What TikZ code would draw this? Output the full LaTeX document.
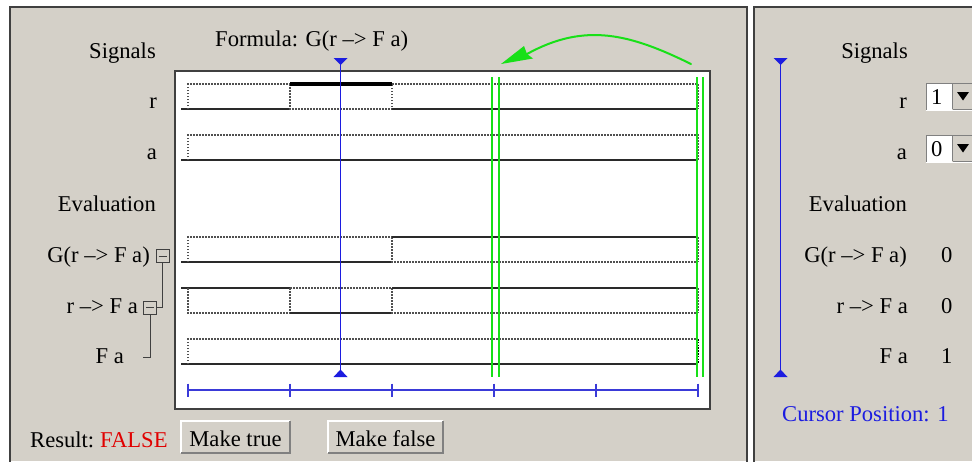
\documentclass[tikz,border=0pt]{standalone}
\usepackage{fontspec}
\setmainfont{Liberation Serif}
\usetikzlibrary{arrows.meta}
\definecolor{panel}{HTML}{D4D0C8}
\definecolor{edge}{HTML}{404040}
\definecolor{cur}{HTML}{1C1CE0}
\definecolor{axisc}{HTML}{3A3AD8}
\definecolor{grn}{HTML}{18E018}
\definecolor{dotc}{HTML}{505050}
\definecolor{sigc}{HTML}{2A2A2A}
\definecolor{redt}{HTML}{E00000}
\begin{document}
\begin{tikzpicture}[x=1pt,y=-1pt,
  txt/.style={inner sep=0pt, font=\fontsize{22.6}{25}\selectfont},
  lbl/.style={txt, anchor=base east},
  lft/.style={txt, anchor=base west},
  sig/.style={draw=sigc, line width=1.4pt},
  dotl/.style={draw=dotc, line width=1.5pt, dash pattern=on 1.5pt off 1.5pt},
  grnl/.style={draw=grn, line width=1.3pt},
  curl/.style={draw=cur, line width=1.2pt},
  icon/.style={draw=edge, line width=1pt},
]
\useasboundingbox (0,0) rectangle (972,461);
\fill[white] (0,0) rectangle (972,461);
% panels
\fill[panel] (10,7) rectangle (747,461);
\draw[edge, line width=1.6pt] (10,470) -- (10,7) -- (747,7) -- (747,470);
\fill[panel] (754,7) rectangle (980,461);
\draw[edge, line width=1.6pt] (754,470) -- (754,7) -- (980,7);
% plot area
\draw[fill=white, draw=edge, line width=1.4pt] (175,71) rectangle (710,409);

% signal r
\draw[sig] (181,109) -- (290,109);
\draw[dotl] (188,109) -- (188,84) -- (290,84);
\draw[dotl] (290,84) -- (290,109) -- (392,109) -- (392,84);
\draw[draw=black, line width=3.2pt] (290,84) -- (392,84);
\draw[sig] (392,109) -- (698,109);
\draw[dotl] (392,84) -- (698,84) -- (698,109);
% signal a
\draw[sig] (181,160) -- (698,160);
\draw[dotl] (188,160) -- (188,135) -- (698,135) -- (698,160);
% G(r -> F a)
\draw[sig] (181,262) -- (392,262);
\draw[dotl] (188,262) -- (188,237) -- (392,237);
\draw[dotl] (392,237) -- (392,262) -- (698,262);
\draw[sig] (392,237) -- (698,237);
\draw[dotl] (698,237) -- (698,262);
% r -> F a
\draw[sig] (181,288) -- (290,288);
\draw[dotl] (188,288) -- (188,313) -- (290,313);
\draw[dotl] (290,288) -- (290,313);
\draw[sig] (290,313) -- (392,313);
\draw[dotl] (290,288) -- (392,288) -- (392,313) -- (698,313);
\draw[sig] (392,288) -- (698,288);
\draw[dotl] (698,288) -- (698,313);
% F a
\draw[sig] (181,364) -- (698,364);
\draw[dotl] (188,364) -- (188,339) -- (698,339);
\draw[draw=black, line width=1.5pt, dash pattern=on 1.6pt off 1.2pt] (698,339) -- (698,364);

% green markers
\draw[grnl] (492,77) -- (492,377);
\draw[grnl] (499,77) -- (499,377);
\draw[grnl] (697,77) -- (697,377);
\draw[grnl] (703,77) -- (703,377);
\coordinate (gs) at (691,64);
\coordinate (gn) at (527,54);
\coordinate (ge) at (501,64);
\draw[draw=grn, line width=2pt, line cap=round]
  (gs) .. controls (630,34) and (585,22) .. (gn);
\fill[grn] (ge) -- (524,46) -- (gn) -- (533,58.5) -- cycle;

% cursor
\coordinate (ct) at (340.5,62);
\coordinate (cb) at (340.5,372);
\draw[curl] (ct) -- (cb);
\fill[cur] (333.5,58) -- (347.5,58) -- (340.5,65) -- cycle;
\fill[cur] (333.5,377) -- (347.5,377) -- (340.5,369.5) -- cycle;

% time axis
\draw[draw=axisc, line width=1.4pt] (188,390) -- (698,390);
\foreach \t in {188,290,392,494,596,698}
  \draw[draw=axisc, line width=1.3pt] (\t,383.5) -- (\t,396.5);

% left labels
\node[lft] (formula) at (215,46) {Formula: G(r –> F a)};
\node[lbl] (lsig) at (156,58) {Signals};
\node[lbl] (lr) at (157,108) {r};
\node[lbl] (la) at (157,159) {a};
\node[lbl] (leval) at (156,211) {Evaluation};
\node[lbl] (lg) at (150,262) {G(r –> F a)};
\node[lbl] (lrf) at (138,313) {r –> F a};
\node[lbl] (lf) at (124,363) {F a};

% tree icons
\draw[icon] (156,249.5) rectangle (169,262.5);
\draw[icon] (158.5,256) -- (166.5,256);
\draw[icon] (143.5,301) rectangle (156.5,314);
\draw[icon] (146,307.5) -- (154,307.5);
\coordinate (gi) at (162.5,262.5);
\coordinate (gj) at (162.5,307.5);
\coordinate (ri) at (150,314);
\coordinate (rj) at (150,357);
\draw[icon] (gi) -- (gj) -- (156.5,307.5);
\draw[icon] (ri) -- (rj) -- (143,357);

% result and buttons
\node[lft] (res) at (30,447) {Result:};
\node[lft, text=redt] (false) at (100,447) {FALSE};
\fill[panel] (181,421) rectangle (290,453);
\draw[white, line width=1.2pt] (181,453) -- (181,421) -- (290,421);
\draw[draw=gray, line width=1.2pt] (181,453) -- (290,453) -- (290,421);
\node[txt, anchor=base] (mtrue) at (235.5,446) {Make true};
\fill[panel] (328,421) rectangle (443,453);
\draw[white, line width=1.2pt] (328,453) -- (328,421) -- (443,421);
\draw[draw=gray, line width=1.2pt] (328,453) -- (443,453) -- (443,421);
\node[txt, anchor=base] (mfalse) at (385.5,446) {Make false};

% right panel
\coordinate (rt) at (780.5,62);
\coordinate (rb) at (780.5,372);
\draw[curl] (rt) -- (rb);
\fill[cur] (773.5,58) -- (787.5,58) -- (780.5,65) -- cycle;
\fill[cur] (773.5,377) -- (787.5,377) -- (780.5,369.5) -- cycle;

\node[lbl] (rsig) at (908,58) {Signals};
\node[lbl] (rr) at (907,108) {r};
\node[lbl] (ra) at (907,159) {a};
\node[lbl] (reval) at (907,211) {Evaluation};
\node[lbl] (rg) at (907,262) {G(r –> F a)};
\node[lbl] (rrf) at (908,313) {r –> F a};
\node[lbl] (rf) at (908,363) {F a};
\node[lft] (vg) at (941,262) {0};
\node[lft] (vrf) at (941,313) {0};
\node[lft] (vf) at (941,363) {1};
\node[lft, text=cur] (cpos) at (782,421) {Cursor Position: 1};

% dropdowns
\foreach \yy/\v/\nm in {83/1/ddr,135/0/dda}{
  \fill[white] (926,\yy) rectangle (952,\yy+27);
  \draw[draw=gray, line width=1pt] (926,\yy+27) -- (926,\yy) -- (980,\yy);
  \draw[draw=white, line width=1pt] (926,\yy+27) -- (980,\yy+27);
  \fill[panel] (953,\yy+1.5) rectangle (980,\yy+26);
  \draw[draw=gray, line width=1pt] (953,\yy+26) -- (980,\yy+26);
  \draw[draw=gray, line width=0.8pt] (952.5,\yy+1) -- (952.5,\yy+26);
  \fill[black] (957,\yy+9) -- (969,\yy+9) -- (963,\yy+17.5) -- cycle;
  \node[lft] (\nm) at (931,\yy+21) {\v};
}
\end{tikzpicture}
\end{document}
